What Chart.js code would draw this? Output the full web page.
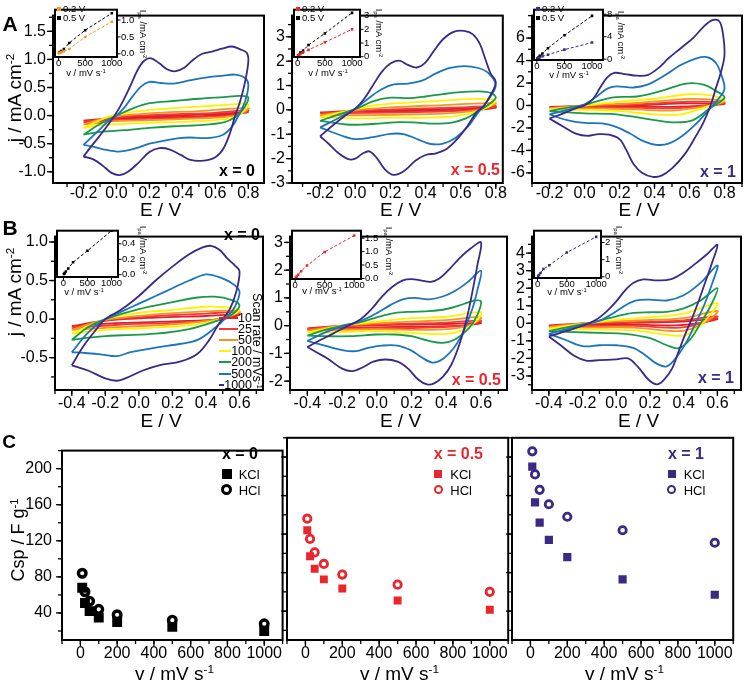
<!DOCTYPE html>
<html><head><meta charset="utf-8">
<script src="https://cdn.jsdelivr.net/npm/chart.js"></script>
<style>
body{margin:0;width:746px;height:686px;position:relative;background:#fff;overflow:hidden;font-family:"Liberation Sans",Arial,Helvetica,sans-serif}
canvas{position:absolute}
.t{position:absolute;white-space:nowrap;color:#000;line-height:1}
.t sup{font-size:0.62em;vertical-align:0.55em}
.t sub{font-size:0.62em;vertical-align:-0.2em}
</style></head><body>
<script>
// ---------------- DATA ----------------
const scanRates = [10, 25, 50, 100, 200, 500, 1000];
const cvColors = ['#e31e24', '#ef3a3f', '#f7941d', '#fff200', '#1a9a48', '#1c75bc', '#3b2985'];

// tick labels
const ticksE_A = [-0.2, 0, 0.2, 0.4, 0.6, 0.8];
const ticksE_B = [-0.4, -0.2, 0, 0.2, 0.4, 0.6];
const ticksJ_A1 = [-1, -0.5, 0, 0.5, 1, 1.5];
const ticksJ_A2 = [-3, -2, -1, 0, 1, 2, 3];
const ticksJ_A3 = [-6, -4, -2, 0, 2, 4, 6];
const ticksJ_B1 = [-0.5, 0, 0.5, 1];
const ticksJ_B2 = [-2, -1, 0, 1, 2, 3];
const ticksJ_B3 = [-3, -2, -1, 0, 1, 2, 3, 4];
const ticksV_C = [0, 200, 400, 600, 800, 1000];
const ticksCsp = [40, 80, 120, 160, 200];
const ticksInsV = [0, 500, 1000];

// CV loops [E / V, j / mA cm-2] : panel A, x = 0
const A1_10 = [[-0.2,-0.09],[0.0,-0.04],[0.3,0.0],[0.6,0.03],[0.8,0.06],[0.6,0.0],[0.3,-0.03],[0.0,-0.06],[-0.2,-0.09]];
const A1_25 = [[-0.2,-0.12],[0.0,-0.03],[0.3,0.02],[0.6,0.05],[0.8,0.09],[0.7,0.0],[0.4,-0.04],[0.0,-0.08],[-0.2,-0.12]];
const A1_50 = [[-0.2,-0.16],[-0.05,-0.03],[0.2,0.04],[0.5,0.08],[0.8,0.13],[0.72,0.0],[0.5,-0.05],[0.2,-0.08],[0.0,-0.1],[-0.2,-0.16]];
const A1_100 = [[-0.2,-0.22],[-0.1,-0.08],[0.0,0.02],[0.2,0.1],[0.4,0.14],[0.6,0.18],[0.75,0.21],[0.8,0.2],[0.76,0.05],[0.7,-0.04],[0.5,-0.1],[0.3,-0.12],[0.1,-0.14],[-0.1,-0.17],[-0.2,-0.22]];
const A1_200 = [[-0.2,-0.34],[-0.1,-0.15],[0.0,0.0],[0.1,0.13],[0.2,0.22],[0.35,0.26],[0.5,0.3],[0.65,0.33],[0.75,0.35],[0.8,0.32],[0.77,0.12],[0.72,-0.03],[0.65,-0.12],[0.5,-0.17],[0.35,-0.19],[0.2,-0.22],[0.05,-0.26],[-0.1,-0.29],[-0.2,-0.34]];
const A1_500 = [[-0.2,-0.52],[-0.12,-0.3],[-0.05,-0.1],[0.0,0.0],[0.05,0.15],[0.1,0.35],[0.15,0.52],[0.2,0.6],[0.27,0.58],[0.35,0.57],[0.45,0.63],[0.55,0.68],[0.65,0.71],[0.72,0.73],[0.78,0.67],[0.8,0.55],[0.78,0.25],[0.74,0.0],[0.7,-0.2],[0.64,-0.35],[0.55,-0.4],[0.45,-0.39],[0.38,-0.4],[0.3,-0.44],[0.2,-0.5],[0.12,-0.58],[0.05,-0.63],[0.0,-0.64],[-0.08,-0.6],[-0.15,-0.55],[-0.2,-0.52]];
const A1_1000 = [[-0.2,-0.73],[-0.14,-0.5],[-0.08,-0.28],[-0.03,-0.08],[0.02,0.15],[0.08,0.5],[0.13,0.82],[0.17,0.98],[0.21,1.02],[0.26,0.93],[0.31,0.82],[0.36,0.79],[0.41,0.85],[0.46,0.98],[0.52,1.1],[0.58,1.14],[0.64,1.19],[0.7,1.23],[0.75,1.18],[0.79,1.12],[0.8,0.97],[0.78,0.6],[0.75,0.25],[0.72,0.0],[0.69,-0.3],[0.65,-0.58],[0.6,-0.74],[0.53,-0.8],[0.45,-0.79],[0.39,-0.7],[0.32,-0.6],[0.26,-0.58],[0.2,-0.65],[0.13,-0.85],[0.07,-1.0],[0.02,-1.06],[-0.03,-1.02],[-0.08,-0.9],[-0.14,-0.78],[-0.2,-0.73]];
// panel A, x = 0.5
const A2_10 = [[-0.2,-0.1],[0.0,-0.04],[0.3,0.0],[0.6,0.05],[0.8,0.1],[0.7,0.0],[0.4,-0.04],[0.1,-0.07],[-0.2,-0.1]];
const A2_25 = [[-0.2,-0.15],[0.0,-0.05],[0.3,0.04],[0.6,0.1],[0.8,0.16],[0.7,0.0],[0.4,-0.08],[0.1,-0.12],[-0.2,-0.15]];
const A2_50 = [[-0.2,-0.22],[0.0,-0.02],[0.2,0.1],[0.5,0.2],[0.75,0.28],[0.8,0.26],[0.7,0.0],[0.5,-0.15],[0.2,-0.2],[0.0,-0.22],[-0.2,-0.22]];
const A2_100 = [[-0.2,-0.3],[-0.05,-0.05],[0.1,0.18],[0.3,0.3],[0.5,0.38],[0.7,0.45],[0.8,0.38],[0.75,0.1],[0.68,-0.1],[0.55,-0.28],[0.4,-0.32],[0.2,-0.32],[0.0,-0.35],[-0.2,-0.3]];
const A2_200 = [[-0.2,-0.45],[-0.1,-0.2],[0.0,0.03],[0.1,0.35],[0.2,0.5],[0.3,0.48],[0.4,0.55],[0.5,0.65],[0.6,0.73],[0.7,0.76],[0.77,0.7],[0.8,0.5],[0.75,0.18],[0.7,-0.05],[0.63,-0.35],[0.55,-0.52],[0.45,-0.56],[0.35,-0.52],[0.25,-0.5],[0.15,-0.55],[0.05,-0.6],[-0.05,-0.6],[-0.2,-0.45]];
const A2_500 = [[-0.2,-0.72],[-0.1,-0.35],[0.0,0.05],[0.08,0.5],[0.15,0.85],[0.22,1.05],[0.3,1.08],[0.38,1.2],[0.46,1.5],[0.54,1.72],[0.62,1.8],[0.7,1.72],[0.76,1.5],[0.8,1.0],[0.75,0.35],[0.7,-0.1],[0.64,-0.7],[0.57,-1.15],[0.5,-1.38],[0.43,-1.4],[0.36,-1.22],[0.28,-1.0],[0.2,-0.98],[0.1,-1.12],[0.0,-1.2],[-0.08,-1.05],[-0.2,-0.72]];
const A2_1000 = [[-0.2,-1.08],[-0.13,-0.65],[-0.06,-0.25],[0.0,0.05],[0.05,0.45],[0.1,1.0],[0.15,1.55],[0.2,1.9],[0.25,2.02],[0.3,1.85],[0.35,1.74],[0.4,1.95],[0.45,2.45],[0.5,2.9],[0.56,3.2],[0.62,3.24],[0.67,3.1],[0.71,2.7],[0.74,2.1],[0.77,1.5],[0.8,1.15],[0.77,0.6],[0.73,0.15],[0.69,-0.1],[0.64,-0.65],[0.58,-1.2],[0.52,-1.6],[0.46,-1.78],[0.4,-1.85],[0.34,-2.1],[0.28,-2.5],[0.22,-2.67],[0.17,-2.45],[0.12,-1.95],[0.08,-1.7],[0.04,-1.8],[0.0,-2.0],[-0.04,-2.02],[-0.1,-1.75],[-0.15,-1.4],[-0.2,-1.08]];
// panel A, x = 1
const A3_10 = [[-0.2,-0.12],[0.0,-0.03],[0.3,0.05],[0.6,0.18],[0.8,0.15],[0.7,0.0],[0.5,-0.12],[0.2,-0.1],[-0.2,-0.12]];
const A3_25 = [[-0.2,-0.18],[0.0,-0.03],[0.3,0.1],[0.6,0.33],[0.8,0.25],[0.7,0.0],[0.5,-0.25],[0.2,-0.18],[-0.2,-0.18]];
const A3_50 = [[-0.2,-0.25],[0.0,-0.02],[0.3,0.22],[0.6,0.58],[0.75,0.5],[0.8,0.35],[0.7,-0.05],[0.5,-0.45],[0.3,-0.35],[0.0,-0.25],[-0.2,-0.25]];
const A3_100 = [[-0.2,-0.35],[0.0,0.0],[0.2,0.35],[0.4,0.6],[0.6,1.0],[0.72,0.9],[0.8,0.5],[0.7,-0.1],[0.55,-0.8],[0.4,-0.8],[0.2,-0.5],[0.0,-0.4],[-0.2,-0.35]];
const A3_200 = [[-0.2,-0.5],[-0.1,-0.2],[0.0,0.05],[0.1,0.5],[0.18,0.75],[0.3,0.8],[0.45,1.35],[0.58,1.95],[0.68,1.85],[0.75,1.3],[0.8,0.7],[0.72,-0.2],[0.62,-1.3],[0.52,-1.5],[0.4,-1.3],[0.28,-1.0],[0.15,-0.75],[0.0,-0.7],[-0.2,-0.5]];
const A3_500 = [[-0.2,-0.8],[-0.1,-0.4],[0.0,0.1],[0.07,0.8],[0.13,1.5],[0.18,1.7],[0.28,1.6],[0.36,1.85],[0.45,2.6],[0.55,3.6],[0.64,4.2],[0.7,4.3],[0.75,3.8],[0.78,2.8],[0.8,1.45],[0.76,0.5],[0.71,-0.4],[0.64,-1.6],[0.56,-2.7],[0.48,-3.4],[0.41,-3.5],[0.34,-3.2],[0.26,-2.5],[0.18,-1.9],[0.1,-1.6],[0.0,-1.55],[-0.1,-1.3],[-0.2,-0.8]];
const A3_1000 = [[-0.2,-1.16],[-0.12,-0.7],[-0.05,-0.25],[0.0,0.0],[0.05,0.6],[0.09,1.6],[0.13,2.5],[0.17,2.9],[0.23,2.8],[0.3,2.65],[0.36,2.7],[0.42,3.3],[0.48,4.2],[0.55,5.1],[0.62,6.0],[0.68,7.0],[0.73,7.6],[0.77,7.5],[0.79,6.5],[0.8,4.5],[0.78,3.0],[0.75,1.5],[0.72,0.0],[0.68,-1.5],[0.63,-2.9],[0.57,-4.4],[0.5,-5.6],[0.44,-6.25],[0.39,-6.35],[0.33,-6.0],[0.28,-5.2],[0.24,-4.0],[0.2,-3.0],[0.14,-2.6],[0.08,-2.55],[0.02,-2.7],[-0.05,-2.5],[-0.12,-1.9],[-0.2,-1.16]];
// panel B, x = 0
const B1_10 = [[-0.4,-0.09],[-0.2,-0.02],[0.1,0.02],[0.4,0.04],[0.6,0.06],[0.5,0.0],[0.2,-0.03],[-0.1,-0.05],[-0.4,-0.09]];
const B1_25 = [[-0.4,-0.12],[-0.2,-0.02],[0.1,0.04],[0.4,0.07],[0.6,0.09],[0.48,0.0],[0.2,-0.05],[-0.1,-0.07],[-0.4,-0.12]];
const B1_50 = [[-0.4,-0.14],[-0.2,-0.01],[0.1,0.06],[0.4,0.1],[0.6,0.1],[0.47,0.0],[0.2,-0.07],[-0.1,-0.1],[-0.4,-0.14]];
const B1_100 = [[-0.4,-0.19],[-0.2,0.0],[0.0,0.08],[0.2,0.12],[0.4,0.16],[0.52,0.15],[0.6,0.11],[0.47,-0.01],[0.3,-0.08],[0.0,-0.12],[-0.2,-0.14],[-0.4,-0.19]];
const B1_200 = [[-0.4,-0.27],[-0.3,-0.1],[-0.2,0.0],[0.0,0.13],[0.2,0.22],[0.35,0.28],[0.45,0.29],[0.55,0.25],[0.6,0.18],[0.55,0.05],[0.47,-0.02],[0.3,-0.13],[0.1,-0.19],[-0.1,-0.21],[-0.2,-0.22],[-0.3,-0.24],[-0.4,-0.27]];
const B1_500 = [[-0.4,-0.43],[-0.3,-0.17],[-0.2,0.0],[-0.1,0.1],[0.0,0.2],[0.1,0.3],[0.2,0.4],[0.3,0.5],[0.4,0.58],[0.47,0.55],[0.55,0.47],[0.6,0.36],[0.57,0.15],[0.52,0.02],[0.45,-0.12],[0.35,-0.27],[0.25,-0.32],[0.1,-0.37],[-0.05,-0.43],[-0.13,-0.48],[-0.22,-0.46],[-0.32,-0.44],[-0.4,-0.43]];
const B1_1000 = [[-0.4,-0.6],[-0.33,-0.35],[-0.26,-0.15],[-0.2,0.0],[-0.1,0.13],[0.0,0.3],[0.1,0.5],[0.2,0.68],[0.3,0.84],[0.38,0.93],[0.43,0.95],[0.48,0.9],[0.53,0.78],[0.57,0.7],[0.6,0.62],[0.58,0.35],[0.54,0.12],[0.48,-0.05],[0.42,-0.27],[0.35,-0.45],[0.25,-0.55],[0.12,-0.6],[0.02,-0.67],[-0.07,-0.76],[-0.13,-0.8],[-0.2,-0.77],[-0.3,-0.67],[-0.4,-0.6]];
// panel B, x = 0.5
const B2_10 = [[-0.4,-0.1],[-0.2,-0.01],[0.1,0.03],[0.4,0.06],[0.6,0.1],[0.5,0.0],[0.2,-0.04],[-0.1,-0.07],[-0.4,-0.1]];
const B2_25 = [[-0.4,-0.13],[-0.2,-0.01],[0.1,0.06],[0.4,0.11],[0.6,0.18],[0.5,0.0],[0.25,-0.08],[-0.1,-0.1],[-0.4,-0.13]];
const B2_50 = [[-0.4,-0.18],[-0.2,0.0],[0.1,0.12],[0.4,0.2],[0.6,0.3],[0.55,0.05],[0.45,-0.1],[0.3,-0.15],[0.0,-0.13],[-0.4,-0.18]];
const B2_100 = [[-0.4,-0.25],[-0.2,0.0],[0.0,0.15],[0.2,0.27],[0.4,0.32],[0.6,0.48],[0.57,0.15],[0.5,-0.15],[0.4,-0.3],[0.25,-0.28],[0.0,-0.2],[-0.2,-0.23],[-0.4,-0.25]];
const B2_200 = [[-0.4,-0.36],[-0.3,-0.15],[-0.2,0.0],[-0.1,0.12],[0.0,0.3],[0.1,0.45],[0.2,0.5],[0.3,0.52],[0.4,0.6],[0.5,0.78],[0.56,0.9],[0.6,0.88],[0.58,0.4],[0.53,-0.1],[0.45,-0.5],[0.38,-0.62],[0.3,-0.55],[0.2,-0.38],[0.1,-0.32],[0.0,-0.32],[-0.15,-0.38],[-0.3,-0.38],[-0.4,-0.36]];
const B2_500 = [[-0.4,-0.55],[-0.3,-0.25],[-0.2,-0.03],[-0.1,0.15],[0.0,0.45],[0.08,0.75],[0.15,0.95],[0.22,1.0],[0.3,0.95],[0.38,1.05],[0.45,1.25],[0.52,1.55],[0.6,1.98],[0.58,1.3],[0.55,0.6],[0.5,-0.2],[0.45,-0.75],[0.38,-1.2],[0.32,-1.33],[0.26,-1.15],[0.2,-0.9],[0.12,-0.72],[0.03,-0.72],[-0.05,-0.8],[-0.12,-0.92],[-0.2,-0.88],[-0.3,-0.72],[-0.4,-0.55]];
const B2_1000 = [[-0.4,-0.77],[-0.32,-0.5],[-0.25,-0.28],[-0.18,-0.05],[-0.1,0.2],[-0.03,0.6],[0.03,1.05],[0.09,1.4],[0.15,1.63],[0.2,1.68],[0.26,1.62],[0.31,1.58],[0.36,1.7],[0.42,2.05],[0.48,2.45],[0.54,2.78],[0.6,3.0],[0.58,2.2],[0.55,1.2],[0.52,0.3],[0.48,-0.6],[0.43,-1.4],[0.38,-1.85],[0.33,-2.08],[0.29,-2.12],[0.24,-1.95],[0.18,-1.55],[0.12,-1.3],[0.05,-1.22],[-0.02,-1.3],[-0.08,-1.5],[-0.14,-1.64],[-0.2,-1.55],[-0.28,-1.2],[-0.35,-0.95],[-0.4,-0.77]];
// panel B, x = 1
const B3_10 = [[-0.4,-0.12],[-0.2,-0.02],[0.1,0.03],[0.4,0.1],[0.6,0.25],[0.5,0.02],[0.35,-0.12],[0.1,-0.08],[-0.4,-0.12]];
const B3_25 = [[-0.4,-0.17],[-0.2,-0.01],[0.1,0.07],[0.4,0.17],[0.6,0.4],[0.52,0.05],[0.38,-0.25],[0.1,-0.15],[-0.4,-0.17]];
const B3_50 = [[-0.4,-0.22],[-0.2,0.0],[0.1,0.15],[0.4,0.3],[0.6,0.7],[0.55,0.2],[0.45,-0.3],[0.35,-0.45],[0.1,-0.25],[-0.2,-0.25],[-0.4,-0.22]];
const B3_100 = [[-0.4,-0.3],[-0.2,-0.03],[0.0,0.2],[0.2,0.35],[0.4,0.55],[0.6,1.15],[0.55,0.4],[0.48,-0.3],[0.4,-0.7],[0.3,-0.65],[0.1,-0.4],[-0.2,-0.35],[-0.4,-0.3]];
const B3_200 = [[-0.4,-0.45],[-0.3,-0.25],[-0.2,-0.05],[-0.1,0.15],[0.0,0.4],[0.1,0.6],[0.2,0.63],[0.3,0.65],[0.4,0.85],[0.5,1.3],[0.6,2.0],[0.56,1.0],[0.5,0.0],[0.44,-0.9],[0.37,-1.42],[0.3,-1.25],[0.2,-0.85],[0.05,-0.6],[-0.1,-0.55],[-0.25,-0.5],[-0.4,-0.45]];
const B3_500 = [[-0.4,-0.6],[-0.3,-0.35],[-0.2,-0.1],[-0.1,0.15],[-0.03,0.5],[0.05,1.0],[0.12,1.3],[0.2,1.35],[0.3,1.3],[0.4,1.6],[0.5,2.3],[0.6,3.3],[0.57,2.3],[0.52,1.0],[0.47,0.0],[0.42,-1.0],[0.36,-1.9],[0.3,-2.45],[0.24,-2.3],[0.17,-1.8],[0.1,-1.4],[0.0,-1.25],[-0.1,-1.25],[-0.2,-1.3],[-0.3,-0.95],[-0.4,-0.6]];
const B3_1000 = [[-0.4,-0.75],[-0.3,-0.45],[-0.2,-0.14],[-0.12,0.2],[-0.06,0.65],[0.0,1.25],[0.05,1.85],[0.1,2.3],[0.16,2.5],[0.24,2.45],[0.32,2.5],[0.4,2.9],[0.47,3.4],[0.54,3.95],[0.6,4.47],[0.57,3.5],[0.53,2.4],[0.49,1.3],[0.45,0.3],[0.41,-0.6],[0.37,-1.6],[0.33,-2.6],[0.28,-3.25],[0.24,-3.48],[0.19,-3.2],[0.13,-2.5],[0.07,-2.0],[0.0,-2.05],[-0.1,-2.1],[-0.18,-2.12],[-0.25,-1.85],[-0.33,-1.25],[-0.4,-0.75]];

// insets: peak current vs scan rate
const insV = [10, 25, 50, 100, 200, 500, 1000];
const insA1_02 = [0.02, 0.03, 0.05, 0.08, 0.14, 0.5, 0.95];
const insA1_05 = [0.03, 0.05, 0.08, 0.14, 0.32, 0.7, 1.2];
const insA2_02 = [0.05, 0.1, 0.2, 0.3, 0.5, 1.05, 2.0];
const insA2_05 = [0.08, 0.15, 0.3, 0.45, 0.85, 1.7, 3.2];
const insA3_02 = [0.1, 0.2, 0.3, 0.5, 0.8, 1.7, 2.95];
const insA3_05 = [0.15, 0.3, 0.6, 1.0, 1.95, 4.25, 7.7];
const insB1 = [0.01, 0.02, 0.04, 0.08, 0.16, 0.31, 0.57];
const insB2 = [0.03, 0.07, 0.14, 0.27, 0.48, 0.99, 1.6];
const insB3 = [0.04, 0.1, 0.22, 0.45, 0.67, 1.42, 2.33];

// panel C: specific capacitance vs scan rate
const vC = [10, 25, 50, 100, 200, 500, 1000];
const C0_KCl = [68, 51, 42, 35, 30, 24.5, 20];
const C0_HCl = [84, 63.5, 53, 44, 38, 32, 28];
const C05_KCl = [124, 97, 84, 73, 63.5, 51, 41.5];
const C05_HCl = [136, 115, 101, 89, 78, 67.5, 60];
const C1_KCl = [190, 153, 132, 114, 96, 73, 57];
const C1_HCl = [206, 182, 166, 151, 138, 124, 111];

// ---------------- RENDER ----------------
const FONT = '"Liberation Sans", Arial, Helvetica, sans-serif';
const RED = '#e8262b', VIO = '#3b2985';
Chart.defaults.font.family = FONT;
Chart.defaults.color = '#000';

const framePlugin = {
  id: 'frame',
  beforeDraw(chart) {
    const o = chart.options.plugins.frame; if (!o || !o.bg) return;
    const {ctx, chartArea: a} = chart;
    ctx.save(); ctx.fillStyle = '#fff';
    ctx.fillRect(a.left, a.top, a.right - a.left, a.bottom - a.top); ctx.restore();
  },
  afterDraw(chart) {
    const o = chart.options.plugins.frame; if (!o) return;
    const {ctx, chartArea: a, scales: {x, y}} = chart;
    ctx.save();
    ctx.strokeStyle = '#000'; ctx.lineWidth = o.lw;
    ctx.strokeRect(a.left, a.top, a.right - a.left, a.bottom - a.top);
    ctx.lineWidth = o.tw;
    const seg = (x1, y1, x2, y2) => { ctx.beginPath(); ctx.moveTo(x1, y1); ctx.lineTo(x2, y2); ctx.stroke(); };
    const each = (min, max, step, fn) => { if (!step) return; for (let k = Math.ceil(min / step - 1e-9); k * step <= max + 1e-9; k++) fn(k * step); };
    const yb = a.bottom + o.lw / 2;
    each(x.min, x.max, o.xMinor, v => { const p = x.getPixelForValue(v); seg(p, yb, p, yb + o.minor); });
    (o.xMajor || []).forEach(v => { const p = x.getPixelForValue(v); seg(p, yb, p, yb + o.major); });
    const right = o.ySide === 'right';
    const sx = right ? a.right + o.lw / 2 : a.left - o.lw / 2, d = right ? 1 : -1;
    each(y.min, y.max, o.yMinor, v => { const p = y.getPixelForValue(v); seg(sx, p, sx + d * o.minor, p); });
    (o.yMajor || []).forEach(v => { const p = y.getPixelForValue(v); seg(sx, p, sx + d * o.major, p); });
    ctx.restore();
  }
};
Chart.register(framePlugin);

function mkCanvas(rect, m) {
  const c = document.createElement('canvas');
  const W = rect.r - rect.l + m.l + m.r, H = rect.b - rect.t + m.t + m.b;
  c.width = W; c.height = H;
  Object.assign(c.style, {left: (rect.l - m.l) + 'px', top: (rect.t - m.t) + 'px', width: W + 'px', height: H + 'px'});
  document.body.appendChild(c);
  return c;
}
function axis(min, max, ticks, fmt, fitProp, size, fontSize, pad, show = true, extra = {}) {
  return Object.assign({
    type: 'linear', min, max,
    afterBuildTicks: s => { s.ticks = ticks.map(v => ({value: v})); },
    afterFit: s => { s[fitProp] = size; },
    grid: {display: false, drawTicks: false, tickLength: 0}, border: {display: false},
    ticks: {display: show, autoSkip: false, maxRotation: 0, minRotation: 0, padding: pad, color: '#000',
      font: {family: FONT, size: fontSize}, callback: v => fmt(v)}
  }, extra);
}
const f1 = v => v.toFixed(1), f0 = v => v.toFixed(0);
const baseOpts = {responsive: false, animation: false, devicePixelRatio: 1, events: [],
  plugins: {legend: {display: false}, tooltip: {enabled: false}}};

function cvChart(rect, xr, yr, xt, yt, yfmt, loops, xMinor, yMinor, xpad) {
  const m = {l: 50, r: 3, t: 3, b: 40};
  const c = mkCanvas(rect, m);
  const datasets = loops.map((L, i) => ({
    data: L.map(([x, y]) => ({x, y})), borderColor: cvColors[i], backgroundColor: cvColors[i],
    borderWidth: 1.8, pointRadius: 0, showLine: true, tension: 0.35, fill: false, order: loops.length - i
  }));
  new Chart(c, {type: 'scatter', data: {datasets}, options: Object.assign({}, baseOpts, {
    layout: {padding: {left: 0, top: m.t, right: m.r, bottom: 0}},
    scales: {x: axis(xr[0], xr[1], xt, f1, 'height', m.b, 16, xpad),
             y: axis(yr[0], yr[1], yt, yfmt, 'width', m.l, 16, 7)},
    plugins: Object.assign({}, baseOpts.plugins, {frame: {lw: 2, tw: 1.3, major: 5, minor: 3, xMajor: xt, xMinor, yMajor: yt, yMinor}})
  })});
}

function insetChart(rect, xr, yr, yt, yfmt, series) {
  const m = {l: 2, r: 32, t: 2, b: 20};
  const c = mkCanvas(rect, m);
  const datasets = series.map(s => ({
    data: insV.map((v, i) => ({x: v, y: s.vals[i]})), borderColor: s.color, backgroundColor: s.color,
    borderWidth: 1, borderDash: [3, 2], pointStyle: 'rect', pointRadius: 1.8, pointBorderWidth: 0,
    showLine: true, tension: 0
  }));
  new Chart(c, {type: 'scatter', data: {datasets}, options: Object.assign({}, baseOpts, {
    layout: {padding: {left: m.l, top: m.t, right: 0, bottom: 0}},
    scales: {x: axis(xr[0], xr[1], ticksInsV, f0, 'height', m.b, 9.5, 1),
             y: axis(yr[0], yr[1], yt, yfmt, 'width', m.r, 9.5, 4, true, {position: 'right'})},
    plugins: Object.assign({}, baseOpts.plugins, {frame: {bg: true, lw: 2, tw: 1, major: 2.5, minor: 0, xMajor: ticksInsV, yMajor: yt, ySide: 'right'}})
  })});
}

function cChart(rect, showY, kcl, hcl, color, sq, cr, cw) {
  const m = {l: 50, r: 3, t: 3, b: 40};
  const c = mkCanvas(rect, m);
  const datasets = [
    {data: vC.map((v, i) => ({x: v, y: kcl[i]})), pointStyle: 'rect', pointRadius: sq, backgroundColor: color, borderColor: color, pointBorderWidth: 0, showLine: false},
    {data: vC.map((v, i) => ({x: v, y: hcl[i]})), pointStyle: 'circle', pointRadius: cr, backgroundColor: '#fff', borderColor: color, pointBorderWidth: cw, showLine: false}
  ];
  new Chart(c, {type: 'scatter', data: {datasets}, options: Object.assign({}, baseOpts, {
    layout: {padding: {left: 0, top: m.t, right: m.r, bottom: 0}},
    scales: {x: axis(-100, 1100, ticksV_C, f0, 'height', m.b, 16, 4),
             y: axis(10, 220, ticksCsp, f0, 'width', m.l, 16, 10, showY)},
    plugins: Object.assign({}, baseOpts.plugins, {frame: {lw: 2, tw: 1.3, major: 5, minor: 3, xMajor: ticksV_C, xMinor: 100, yMajor: ticksCsp, yMinor: 20}})
  })});
}

function T(html, x, y, o = {}) {
  const d = document.createElement('div'); d.className = 't'; d.innerHTML = html;
  d.style.left = x + 'px'; d.style.top = y + 'px';
  d.style.fontSize = (o.size || 16) + 'px';
  if (o.bold) d.style.fontWeight = 'bold';
  if (o.color) d.style.color = o.color;
  const ax = o.align === 'right' ? '-100%' : o.align === 'left' ? '0' : '-50%';
  d.style.transform = `translate(${ax},-50%)` + (o.rot ? ` rotate(${o.rot}deg)` : '');
  document.body.appendChild(d);
  return d;
}
function box(x, y, w, h, css) {
  const d = document.createElement('div');
  Object.assign(d.style, {position: 'absolute', left: (x - w / 2) + 'px', top: (y - h / 2) + 'px', width: w + 'px', height: h + 'px', boxSizing: 'border-box'}, css);
  document.body.appendChild(d);
}

// rects
const rA1 = {l: 53, t: 2, r: 264, b: 183}, rA2 = {l: 292, t: 2, r: 505, b: 183}, rA3 = {l: 532, t: 2, r: 742, b: 183};
const rB1 = {l: 55, t: 223, r: 263, b: 390}, rB2 = {l: 290, t: 223, r: 507, b: 390}, rB3 = {l: 532, t: 223, r: 741, b: 390};
const rC1 = {l: 62, t: 434, r: 287, b: 640}, rC2 = {l: 287, t: 434, r: 512, b: 640}, rC3 = {l: 512, t: 434, r: 737, b: 640};

cvChart(rA1, [-0.385, 0.895], [-1.2, 1.78], ticksE_A, ticksJ_A1, f1, [A1_10, A1_25, A1_50, A1_100, A1_200, A1_500, A1_1000], 0.1, 0.25, 1);
cvChart(rA2, [-0.36, 0.84], [-3, 3.87], ticksE_A, ticksJ_A2, f0, [A2_10, A2_25, A2_50, A2_100, A2_200, A2_500, A2_1000], 0.1, 0.5, 1);
cvChart(rA3, [-0.3, 0.9], [-6.9, 8.0], ticksE_A, ticksJ_A3, f0, [A3_10, A3_25, A3_50, A3_100, A3_200, A3_500, A3_1000], 0.1, 1, 1);
cvChart(rB1, [-0.5, 0.74], [-0.92, 1.07], ticksE_B, ticksJ_B1, f1, [B1_10, B1_25, B1_50, B1_100, B1_200, B1_500, B1_1000], 0.1, 0.25, 4);
cvChart(rB2, [-0.5, 0.75], [-2.32, 3.21], ticksE_B, ticksJ_B2, f0, [B2_10, B2_25, B2_50, B2_100, B2_200, B2_500, B2_1000], 0.1, 0.5, 4);
cvChart(rB3, [-0.5, 0.74], [-3.8, 4.94], ticksE_B, ticksJ_B3, f0, [B3_10, B3_25, B3_50, B3_100, B3_200, B3_500, B3_1000], 0.1, 0.5, 4);

insetChart({l: 53, t: 2, r: 117, b: 57}, [-67, 1097], [-0.094, 1.305], [0, 0.5, 1], f1, [{vals: insA1_02, color: '#f7941d'}, {vals: insA1_05, color: '#000'}]);
insetChart({l: 292, t: 2, r: 360, b: 57}, [-66, 1146], [-0.02, 3.43], [0, 1, 2, 3], f0, [{vals: insA2_02, color: RED}, {vals: insA2_05, color: '#000'}]);
insetChart({l: 532, t: 2, r: 603, b: 60}, [-53, 1199], [-0.15, 8.8], [0, 4, 8], f0, [{vals: insA3_02, color: VIO}, {vals: insA3_05, color: '#000'}]);
insetChart({l: 55, t: 223, r: 118, b: 277}, [-134, 1136], [-0.03, 0.57], [0, 0.2, 0.4], f1, [{vals: insB1, color: '#000'}]);
insetChart({l: 290, t: 223, r: 361, b: 279}, [-54, 1115], [-0.02, 1.78], [0, 0.5, 1, 1.5], f1, [{vals: insB2, color: RED}]);
insetChart({l: 532, t: 223, r: 601, b: 278}, [-61, 1083], [-0.07, 2.69], [0, 1, 2], f0, [{vals: insB3, color: VIO}]);

cChart(rC1, true, C0_KCl, C0_HCl, '#000', 7, 3.8, 3.4);
cChart(rC2, false, C05_KCl, C05_HCl, RED, 5.6, 3.7, 2.8);
cChart(rC3, false, C1_KCl, C1_HCl, VIO, 5.8, 3.7, 2.8);

// ---------- text ----------
T('A', 10, 23, {size: 21, bold: true});
T('B', 10, 227, {size: 21, bold: true});
T('C', 9, 441, {size: 19, bold: true});
T('j / mA cm<sup>-2</sup>', 14, 98, {size: 19, rot: -90});
T('j / mA cm<sup>-2</sup>', 14, 292, {size: 19, rot: -90});
T('Csp / F g<sup>-1</sup>', 18, 540, {size: 18, rot: -90});
[[rA1, 209], [rA2, 209], [rA3, 209], [rB1, 420], [rB2, 420], [rB3, 420]].forEach(([r, y]) => T('E / V', (r.l + r.r) / 2 + 2, y, {size: 19}));
[rC1, rC2, rC3].forEach(r => T('v / mV s<sup>-1</sup>', (r.l + r.r) / 2, 673, {size: 19}));

T('x = 0', 255, 171, {bold: true, align: 'right'});
T('x = 0.5', 500, 170, {bold: true, align: 'right', color: RED});
T('x = 1', 736, 172, {bold: true, align: 'right', color: VIO});
T('x = 0', 260, 235, {bold: true, align: 'right'});
T('x = 0.5', 501, 380, {bold: true, align: 'right', color: RED});
T('x = 1', 734, 378, {bold: true, align: 'right', color: VIO});
T('x = 0', 258, 454, {bold: true, align: 'right'});
T('x = 0.5', 483, 454, {bold: true, align: 'right', color: RED});
T('x = 1', 704, 454, {bold: true, align: 'right', color: VIO});

// C legends
[[226.7, '#000', 10, 3.4, 11], [438.3, RED, 8, 2.8, 9.5], [671.7, VIO, 8.2, 2.8, 9.5]].forEach(([x, col, sq, bw, cd]) => {
  box(x, 474, sq, sq, {background: col});
  box(x, 489.5, cd, cd, {border: bw + 'px solid ' + col, borderRadius: '50%', background: '#fff'});
  T('KCl', x + 12, 474, {size: 13, align: 'left'});
  T('HCl', x + 12, 489.5, {size: 13, align: 'left'});
});

// inset legends and titles
[[53, '#f7941d'], [292, RED], [532, VIO]].forEach(([l, col]) => {
  box(l + 6, 9, 3.5, 3.5, {background: col});
  box(l + 6, 18, 3.5, 3.5, {background: '#000'});
  T('0.2 V', l + 10, 9, {size: 9.5, align: 'left'});
  T('0.5 V', l + 10, 18, {size: 9.5, align: 'left'});
});
[[86, 73], [328, 73], [569, 75], [84, 292], [322, 291], [567, 292]].forEach(([x, y]) => T('v / mV s<sup>-1</sup>', x, y, {size: 9.5}));
[[142, 34], [378, 33], [620, 35], [142, 250], [388, 251], [618, 250]].forEach(([x, y]) => T('I<sub>pa</sub> /mA cm<sup>-2</sup>', x, y, {size: 9.5, rot: 90}));

// scan rate legend (panel B, x = 0)
scanRates.forEach((s, i) => {
  const d = document.createElement('div');
  Object.assign(d.style, {position: 'absolute', left: '219px', top: (318 + i * 11.1 - 7) + 'px', width: '33px', height: '14px', display: 'flex', alignItems: 'center', fontSize: '12.5px', lineHeight: '14px'});
  const ln = document.createElement('div'); Object.assign(ln.style, {flex: '1', height: '2px', background: cvColors[i]});
  const tx = document.createElement('span'); tx.textContent = s;
  d.appendChild(ln); d.appendChild(tx); document.body.appendChild(d);
});
T('Scan rate / mVs<sup>-1</sup>', 257, 341, {size: 12.5, rot: 90});
</script>
</body></html>
